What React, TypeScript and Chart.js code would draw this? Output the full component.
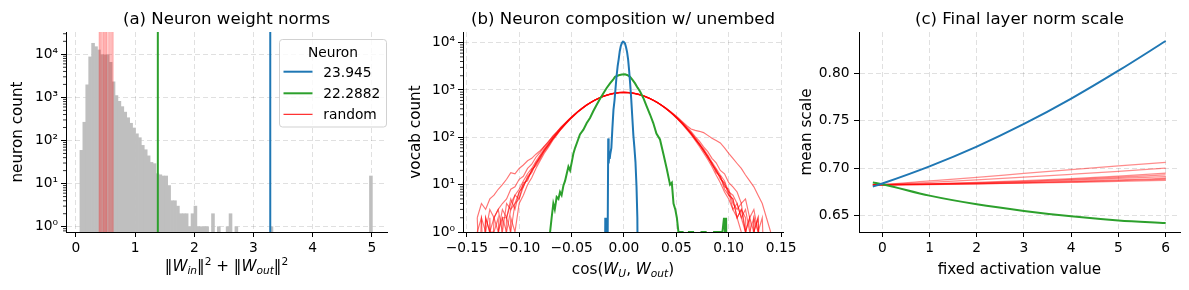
import React, { useEffect, useRef } from "react";
import { Chart, registerables } from "chart.js";

Chart.register(...registerables);

const FONT = "'DejaVu Sans', 'Liberation Sans', sans-serif";
const FIG_W = 1189;
const FIG_H = 290;
const TICK_SIZE = 13.8;
const LABEL_SIZE = 15.2;
const TITLE_SIZE = 16.6;
const TITLE_BASE = 24;
const GRID_COLOR = "rgba(0,0,0,0.12)";
const BLUE = "#1f77b4";
const GREEN = "#2ca02c";
const AXIS_TOP = 32;
const AXIS_BOTTOM = 232;
// zero counts are clipped far below the log axis (like matplotlib's nonpositive='clip')
const LOG_FLOOR = 0.01;

// ---------------- (a) Neuron weight norms ----------------
const histStart = 0.068;
const histBinWidth = 0.0494;
const histCounts = [
  59, 265, 1950, 8700, 18000, 15000, 12600, 9700, 9700, 9700,
  6500, 2300, 1100, 810, 610, 455, 337, 251, 195, 143,
  116, 77, 61, 44, 31, 29, 17, 16, 15, 15,
  9, 4, 4, 3, 2, 2, 2, 1, 2, 3,
  1, 1, 1, 1, 0, 2, 0, 1, 0, 0,
  1, 2, 0, 1, 0, 0, 0, 0, 0, 0,
  0, 0, 0, 0, 0, 1, 0, 0, 0, 0,
  0, 0, 0, 0, 0, 0, 0, 0, 0, 0,
  0, 0, 0, 0, 0, 0, 0, 0, 0, 0,
  0, 0, 0, 0, 0, 0, 0, 0, 0, 15,
];
const neuronNorms = [3.283, 1.384];
const randomNorms = [0.395, 0.405, 0.42, 0.435, 0.455, 0.47, 0.48, 0.5, 0.51, 0.52, 0.545, 0.565, 0.58, 0.6, 0.615, 0.63];
const legendTitle = "Neuron";
const legendLabels = ["23.945", "22.2882", "random"];
const aXTicks = [0, 1, 2, 3, 4, 5];
const logTicks = [1, 10, 100, 1000, 10000];
const aXRange = [-0.167, 5.255];
const aYRange = [0.753, 32900];

// ---------------- (b) Neuron composition w/ unembed ----------------
const bBlueX = [-0.0185, -0.0178, -0.017, -0.0162, -0.0155, -0.015, -0.0146, -0.0141, -0.0136, -0.013, -0.012, -0.011, -0.01, -0.009, -0.008, -0.007, -0.006, -0.005, -0.004, -0.003, -0.002, -0.001, 0, 0.001, 0.002, 0.003, 0.004, 0.005, 0.006, 0.007, 0.008, 0.009, 0.01, 0.011, 0.012, 0.0128, 0.0135];
const bBlueY = [0, 2, 1, 2, 1, 95, 28, 40, 35, 45, 60, 160, 380, 600, 1100, 2000, 3200, 4500, 6600, 8500, 9800, 10500, 10300, 9600, 8000, 6300, 4400, 2500, 1300, 620, 260, 110, 60, 30, 9, 2, 0];
const bGreenX = [-0.072, -0.0705, -0.069, -0.0674, -0.066, -0.0642, -0.0625, -0.061, -0.0595, -0.0578, -0.0562, -0.0546, -0.053, -0.0514, -0.0498, -0.0483, -0.0466, -0.045, -0.042, -0.0387, -0.0355, -0.0324, -0.0292, -0.026, -0.0228, -0.0196, -0.0165, -0.0133, -0.01, -0.0085, -0.005, -0.002, 0.001, 0.0035, 0.0058, 0.008, 0.0106, 0.013, 0.0154, 0.0185, 0.0217, 0.025, 0.028, 0.031, 0.0344, 0.0376, 0.0408, 0.044, 0.0457, 0.0473, 0.049, 0.0505, 0.052, 0.056, 0.059, 0.062, 0.066, 0.07, 0.074, 0.078, 0.082, 0.086, 0.09, 0.094, 0.0955, 0.0965, 0.0975, 0.0985];
const bGreenY = [0, 1, 2, 4, 3, 5.5, 5, 7, 6, 9.5, 12, 17, 24, 20, 30, 45, 60, 75, 115, 145, 200, 257, 360, 490, 650, 850, 1100, 1380, 1700, 1900, 2050, 2130, 2140, 2050, 1900, 1650, 1380, 1120, 930, 680, 450, 300, 200, 120, 90, 45, 22, 10, 11, 4, 3, 2, 1, 1, 0, 1, 1, 0, 1, 1, 0, 1, 1, 1, 2, 1, 2, 0];
const bRedX = [
  -0.14, -0.136, -0.132, -0.128, -0.124, -0.12, -0.116, -0.112, -0.108, -0.104,
  -0.1, -0.096, -0.092, -0.088, -0.084, -0.08, -0.076, -0.072, -0.068, -0.064,
  -0.06, -0.056, -0.052, -0.048, -0.044, -0.04, -0.036, -0.032, -0.028, -0.024,
  -0.02, -0.016, -0.012, -0.008, -0.004, 0, 0.004, 0.008, 0.012, 0.016,
  0.02, 0.024, 0.028, 0.032, 0.036, 0.04, 0.044, 0.048, 0.052, 0.056,
  0.06, 0.064, 0.068, 0.072, 0.076, 0.08, 0.084, 0.088, 0.092, 0.096,
  0.1, 0.104, 0.108, 0.112, 0.116, 0.12, 0.124, 0.128, 0.132, 0.136, 0.14,
];
const bRed1 = [0, 1, 0, 2, 0, 1, 2, 1, 3, 4, 7, 9, 15, 19, 29, 38, 55, 70, 95, 119, 156, 190, 240, 286, 350, 405, 476, 538, 612, 670, 736, 783, 835, 860, 888, 893, 882, 866, 828, 790, 730, 676, 604, 545, 470, 411, 343, 292, 235, 195, 151, 123, 90, 73, 51, 40, 27, 21, 13, 11, 6, 5, 2, 3, 1, 2, 0, 1, 0, 0, 0];
const bRed2 = [2, 0, 1, 0, 2, 3, 1, 4, 3, 6, 8, 12, 17, 22, 31, 42, 58, 76, 99, 126, 160, 198, 244, 295, 352, 412, 480, 545, 607, 668, 728, 778, 824, 857, 880, 886, 879, 858, 826, 781, 727, 668, 606, 542, 476, 414, 352, 296, 245, 199, 159, 127, 97, 75, 57, 42, 30, 22, 16, 12, 7, 6, 4, 2, 3, 1, 2, 0, 1, 0, 0];
const bRed3 = [0, 0, 0, 1, 0, 0, 1, 0, 2, 1, 4, 6, 10, 14, 22, 32, 46, 62, 86, 112, 148, 186, 232, 282, 342, 400, 470, 536, 606, 672, 738, 790, 840, 872, 896, 902, 893, 870, 838, 792, 737, 676, 610, 540, 470, 402, 340, 282, 230, 186, 146, 114, 86, 64, 47, 34, 24, 16, 11, 7, 5, 3, 2, 1, 0, 1, 0, 0, 0, 0, 0];
const bRed4 = [0, 0, 2, 1, 1, 2, 0, 2, 5, 3, 7, 10, 13, 20, 27, 40, 52, 72, 92, 122, 153, 194, 238, 290, 345, 410, 472, 540, 610, 675, 730, 785, 830, 866, 884, 890, 887, 862, 834, 785, 735, 672, 610, 538, 474, 406, 348, 288, 240, 192, 156, 118, 95, 69, 55, 37, 29, 19, 15, 9, 8, 4, 3, 4, 1, 2, 1, 2, 0, 1, 0];
const bRed5 = [1, 2, 0, 0, 1, 0, 2, 2, 1, 4, 5, 9, 14, 18, 28, 37, 53, 69, 94, 120, 151, 192, 236, 288, 347, 406, 475, 540, 606, 671, 731, 786, 829, 862, 886, 893, 884, 864, 829, 789, 731, 674, 606, 543, 472, 409, 344, 291, 236, 194, 152, 122, 92, 71, 52, 39, 26, 20, 14, 10, 7, 3, 4, 2, 1, 0, 2, 1, 0, 0, 1];
const bRed6 = [1, 0, 2, 1, 2, 3, 4, 5, 8, 9, 13, 15, 22, 27, 38, 48, 65, 80, 106, 131, 166, 202, 246, 292, 350, 410, 478, 542, 610, 670, 732, 782, 828, 860, 879, 884, 880, 862, 830, 786, 734, 672, 608, 544, 478, 412, 352, 294, 244, 204, 164, 134, 104, 83, 63, 50, 36, 29, 20, 17, 11, 9, 7, 4, 5, 2, 3, 1, 2, 0, 1];
const bRed7 = [2, 4, 3, 5, 6, 8, 10, 13, 18, 17, 22, 26, 32, 36, 44, 52, 64, 82, 104, 130, 162, 200, 246, 296, 352, 410, 474, 538, 602, 662, 720, 770, 816, 848, 866, 872, 868, 850, 818, 776, 724, 666, 604, 542, 478, 416, 358, 303, 256, 212, 176, 150, 140, 134, 126, 110, 96, 86, 76, 60, 46, 36, 28, 22, 16, 12, 9, 6, 4, 2, 1];
const bRed8 = [0, 2, 1, 3, 2, 1, 3, 2, 4, 6, 5, 11, 12, 21, 25, 35, 50, 66, 90, 116, 150, 189, 234, 284, 344, 402, 470, 535, 604, 668, 732, 782, 830, 864, 884, 888, 884, 866, 832, 786, 733, 670, 608, 541, 473, 405, 346, 287, 238, 191, 153, 119, 92, 70, 53, 38, 28, 18, 15, 8, 6, 5, 2, 3, 2, 0, 1, 2, 0, 1, 0];
const bRedLines = [bRed1, bRed2, bRed3, bRed4, bRed5, bRed6, bRed7, bRed8];
const bXTicks = [-0.15, -0.1, -0.05, 0, 0.05, 0.1, 0.15];
const bXRange = [-0.1536, 0.1518];
const bYRange = [1, 16800];

// ---------------- (c) Final layer norm scale ----------------
const cX = [-0.2, 0, 1, 2, 3, 4, 5, 6];
const cBlue = [0.6806, 0.6839, 0.702, 0.7228, 0.7466, 0.7733, 0.8027, 0.834];
const cGreen = [0.685, 0.6832, 0.6711, 0.662, 0.655, 0.6493, 0.645, 0.6423];
const cRed1 = [0.6825, 0.6829, 0.6866, 0.6904, 0.6945, 0.6985, 0.7024, 0.7062];
const cRed2 = [0.6825, 0.6827, 0.685, 0.6877, 0.6906, 0.6936, 0.6967, 0.7];
const cRed3 = [0.6825, 0.6826, 0.6836, 0.6851, 0.6869, 0.689, 0.6917, 0.6947];
const cRed4 = [0.6825, 0.6826, 0.6834, 0.6846, 0.6862, 0.6882, 0.6905, 0.693];
const cRed5 = [0.6825, 0.6826, 0.6832, 0.6842, 0.6856, 0.6873, 0.6892, 0.6912];
const cRed6 = [0.6825, 0.6825, 0.683, 0.6838, 0.6849, 0.6862, 0.6877, 0.6894];
const cRed7 = [0.6825, 0.6825, 0.6829, 0.6836, 0.6845, 0.6856, 0.6869, 0.6884];
const cRed8 = [0.6825, 0.6825, 0.6828, 0.6834, 0.6842, 0.6851, 0.6861, 0.6873];
const cRedLines = [cRed1, cRed2, cRed3, cRed4, cRed5, cRed6, cRed7, cRed8];
const cXTicks = [0, 1, 2, 3, 4, 5, 6];
const cYTicks = [0.65, 0.7, 0.75, 0.8];
const cXRange = [-0.493, 6.303];
const cYRange = [0.6328, 0.8435];

// ---------------- helpers ----------------
const SUP: Record<string, string> = { "0": "\u2070", "1": "\u00b9", "2": "\u00b2", "3": "\u00b3", "4": "\u2074", "5": "\u2075" };
const fmtLog = (v: number) => "10" + String(Math.round(Math.log10(v))).split("").map((d) => SUP[d] || d).join("");
const fmtInt = (v: number) => String(Math.round(v));
const fmt2 = (v: number) => (Math.abs(v) < 1e-9 ? "0.00" : v.toFixed(2).replace("-", "\u2212"));

type Seg = { t: string; it?: boolean; s?: number; dy?: number };
const segFont = (sg: Seg, size: number) => `${sg.it ? "italic " : ""}${(size * (sg.s ?? 1)).toFixed(2)}px ${FONT}`;

function drawSegs(ctx: CanvasRenderingContext2D, segs: Seg[], cx: number, by: number, size: number) {
  const widths = segs.map((sg) => {
    ctx.font = segFont(sg, size);
    return ctx.measureText(sg.t).width;
  });
  const total = widths.reduce((a, b) => a + b, 0);
  let x = cx - total / 2;
  ctx.textAlign = "left";
  segs.forEach((sg, i) => {
    ctx.font = segFont(sg, size);
    ctx.fillText(sg.t, x, by + (sg.dy ?? 0) * size);
    x += widths[i];
  });
}

const tickFont = { family: FONT, size: TICK_SIZE };

function scaleX(range: number[], ticks: number[], fmt: (v: number) => string) {
  return {
    type: "linear",
    position: "bottom",
    min: range[0],
    max: range[1],
    offset: false,
    afterBuildTicks: (s: any) => {
      s.ticks = ticks.map((v) => ({ value: v }));
    },
    afterFit: (s: any) => {
      s.height = FIG_H - AXIS_BOTTOM;
      s.paddingLeft = 0;
      s.paddingRight = 0;
    },
    ticks: { autoSkip: false, maxRotation: 0, minRotation: 0, padding: 3.5, color: "#000", font: tickFont, callback: (v: any) => fmt(Number(v)) },
    grid: { color: GRID_COLOR, lineWidth: 1, offset: false, drawTicks: true, tickLength: 5, tickColor: "#000", tickWidth: 1 },
    border: { display: true, color: "#000", width: 1, dash: [5, 3], z: 1 },
  };
}

function scaleY(type: string, range: number[], ticks: number[], fmt: (v: number) => string, pad: number) {
  return {
    type,
    position: "left",
    min: range[0],
    max: range[1],
    afterBuildTicks: (s: any) => {
      s.ticks = ticks.map((v) => ({ value: v }));
    },
    afterFit: (s: any) => {
      s.width = 60;
      s.paddingTop = 0;
      s.paddingBottom = 0;
    },
    ticks: { autoSkip: false, padding: pad, color: "#000", font: tickFont, callback: (v: any) => fmt(Number(v)) },
    grid: { color: GRID_COLOR, lineWidth: 1, drawTicks: true, tickLength: 5, tickColor: "#000", tickWidth: 1 },
    border: { display: true, color: "#000", width: 1, dash: [5, 3], z: 1 },
  };
}

interface Deco {
  title: string;
  xLabel: Seg[];
  xLabelY: number;
  yLabel: string;
  yLabelX: number;
  minorLog?: boolean;
  legend?: boolean;
}

function drawLegend(ctx: CanvasRenderingContext2D) {
  const x0 = 279.5, y0 = 39.5, x1 = 386.5, y1 = 127, r = 3;
  ctx.beginPath();
  ctx.moveTo(x0 + r, y0);
  ctx.arcTo(x1, y0, x1, y1, r);
  ctx.arcTo(x1, y1, x0, y1, r);
  ctx.arcTo(x0, y1, x0, y0, r);
  ctx.arcTo(x0, y0, x1, y0, r);
  ctx.closePath();
  ctx.fillStyle = "rgba(255,255,255,0.8)";
  ctx.fill();
  ctx.strokeStyle = "rgba(204,204,204,0.9)";
  ctx.lineWidth = 1;
  ctx.stroke();
  ctx.fillStyle = "#000";
  ctx.font = `${TICK_SIZE}px ${FONT}`;
  ctx.textAlign = "center";
  ctx.textBaseline = "alphabetic";
  ctx.fillText(legendTitle, 333, 56.5);
  const rows = [
    { c: BLUE, w: 2, y: 71.7 },
    { c: GREEN, w: 2, y: 93.3 },
    { c: "#ff0000", w: 1, y: 114.3 },
  ];
  rows.forEach((row, i) => {
    ctx.beginPath();
    ctx.strokeStyle = row.c;
    ctx.lineWidth = row.w;
    ctx.moveTo(283.5, row.y);
    ctx.lineTo(312.5, row.y);
    ctx.stroke();
    ctx.fillStyle = "#000";
    ctx.textAlign = "left";
    ctx.fillText(legendLabels[i], 323.3, row.y + 5);
  });
}

function decoPlugin(d: Deco) {
  return {
    id: "deco",
    afterDraw(chart: any) {
      const { ctx, chartArea } = chart;
      const cx = (chartArea.left + chartArea.right) / 2;
      const cy = (chartArea.top + chartArea.bottom) / 2;
      ctx.save();
      ctx.fillStyle = "#000";
      ctx.textBaseline = "alphabetic";
      ctx.textAlign = "center";
      ctx.font = `${TITLE_SIZE}px ${FONT}`;
      ctx.fillText(d.title, cx, TITLE_BASE);
      drawSegs(ctx, d.xLabel, cx, d.xLabelY, LABEL_SIZE);
      ctx.save();
      ctx.translate(d.yLabelX, cy);
      ctx.rotate(-Math.PI / 2);
      ctx.textAlign = "center";
      ctx.font = `${LABEL_SIZE}px ${FONT}`;
      ctx.fillText(d.yLabel, 0, 0);
      ctx.restore();
      if (d.minorLog) {
        const ys = chart.scales.y;
        ctx.strokeStyle = "#000";
        ctx.lineWidth = 0.8;
        ctx.beginPath();
        for (let e = -1; e <= 5; e++) {
          for (let m = 2; m <= 9; m++) {
            const v = m * Math.pow(10, e);
            if (v < ys.min || v > ys.max) continue;
            const py = ys.getPixelForValue(v);
            ctx.moveTo(chartArea.left - 3, py);
            ctx.lineTo(chartArea.left, py);
          }
        }
        ctx.stroke();
      }
      if (d.legend) drawLegend(ctx);
      ctx.restore();
    },
  };
}

function baseOptions(left: number, right: number, scales: any) {
  return {
    responsive: false,
    maintainAspectRatio: false,
    devicePixelRatio: 1,
    animation: false,
    events: [],
    layout: { padding: { left: left - 60, right: FIG_W - right, top: AXIS_TOP, bottom: 0 } },
    plugins: { legend: { display: false }, title: { display: false }, tooltip: { enabled: false } },
    scales,
  };
}

function configA(): any {
  const yMin = aYRange[0];
  const yMax = aYRange[1];
  const vline = (x: number, color: string, width: number) => ({
    type: "line",
    data: [{ x, y: yMin }, { x, y: yMax }],
    borderColor: color,
    borderWidth: width,
    pointRadius: 0,
    fill: false,
    clip: 0,
  });
  return {
    type: "bar",
    data: {
      datasets: [
        vline(neuronNorms[0], BLUE, 2),
        vline(neuronNorms[1], GREEN, 2),
        ...randomNorms.map((v) => vline(v, "rgba(255,0,0,0.2)", 1.5)),
        {
          type: "bar",
          data: histCounts.map((c, i) => ({ x: histStart + histBinWidth * (i + 0.5), y: c > 0 ? c : null })),
          backgroundColor: "rgb(191,191,191)",
          borderWidth: 0,
          barPercentage: 1,
          categoryPercentage: 1,
        },
      ],
    },
    options: baseOptions(66, 387, {
      x: scaleX(aXRange, aXTicks, fmtInt),
      y: scaleY("logarithmic", aYRange, logTicks, fmtLog, 3),
    }),
    plugins: [
      decoPlugin({
        title: "(a) Neuron weight norms",
        xLabel: [
          { t: "\u2016" },
          { t: "W", it: true },
          { t: "in", it: true, s: 0.7, dy: 0.2 },
          { t: "\u2016" },
          { t: "2", s: 0.7, dy: -0.42 },
          { t: " + " },
          { t: "\u2016" },
          { t: "W", it: true },
          { t: "out", it: true, s: 0.7, dy: 0.2 },
          { t: "\u2016" },
          { t: "2", s: 0.7, dy: -0.42 },
        ],
        xLabelY: 271,
        yLabel: "neuron count",
        yLabelX: 21.7,
        minorLog: true,
        legend: true,
      }),
    ],
  };
}

function configB(): any {
  const line = (xs: number[], ys: number[], color: string, width: number) => ({
    data: xs.map((x, i) => ({ x, y: ys[i] > 0 ? ys[i] : LOG_FLOOR })),
    borderColor: color,
    borderWidth: width,
    pointRadius: 0,
    fill: false,
    tension: 0,
    clip: 0,
  });
  return {
    type: "line",
    data: {
      datasets: [
        line(bBlueX, bBlueY, BLUE, 2),
        line(bGreenX, bGreenY, GREEN, 2),
        ...bRedLines.map((ys) => line(bRedX, ys, "rgba(255,0,0,0.55)", 1.15)),
      ],
    },
    options: baseOptions(463, 783, {
      x: scaleX(bXRange, bXTicks, fmt2),
      y: scaleY("logarithmic", bYRange, logTicks, fmtLog, 3),
    }),
    plugins: [
      decoPlugin({
        title: "(b) Neuron composition w/ unembed",
        xLabel: [
          { t: "cos(" },
          { t: "W", it: true },
          { t: "U", it: true, s: 0.7, dy: 0.2 },
          { t: ", " },
          { t: "W", it: true },
          { t: "out", it: true, s: 0.7, dy: 0.2 },
          { t: ")" },
        ],
        xLabelY: 273.5,
        yLabel: "vocab count",
        yLabelX: 420,
        minorLog: true,
      }),
    ],
  };
}

function configC(): any {
  const line = (ys: number[], color: string, width: number) => ({
    data: cX.map((x, i) => ({ x, y: ys[i] })),
    borderColor: color,
    borderWidth: width,
    pointRadius: 0,
    fill: false,
    cubicInterpolationMode: "monotone",
    clip: 0,
  });
  return {
    type: "line",
    data: {
      datasets: [
        line(cBlue, BLUE, 2),
        line(cGreen, GREEN, 2),
        ...cRedLines.map((ys) => line(ys, "rgba(255,0,0,0.45)", 1.3)),
      ],
    },
    options: baseOptions(859, 1180, {
      x: scaleX(cXRange, cXTicks, fmtInt),
      y: scaleY("linear", cYRange, cYTicks, fmt2, 4.5),
    }),
    plugins: [
      decoPlugin({
        title: "(c) Final layer norm scale",
        xLabel: [{ t: "fixed activation value" }],
        xLabelY: 273.8,
        yLabel: "mean scale",
        yLabelX: 810.7,
      }),
    ],
  };
}

export default function App() {
  const refA = useRef<HTMLCanvasElement>(null);
  const refB = useRef<HTMLCanvasElement>(null);
  const refC = useRef<HTMLCanvasElement>(null);

  useEffect(() => {
    const charts = [
      new Chart(refA.current as HTMLCanvasElement, configA()),
      new Chart(refB.current as HTMLCanvasElement, configB()),
      new Chart(refC.current as HTMLCanvasElement, configC()),
    ];
    return () => charts.forEach((c) => c.destroy());
  }, []);

  const cs: React.CSSProperties = { position: "absolute", left: 0, top: 0, width: FIG_W, height: FIG_H };
  return (
    <div style={{ position: "absolute", left: 0, top: 0, width: FIG_W, height: FIG_H, background: "#fff", overflow: "hidden" }}>
      <canvas ref={refA} width={FIG_W} height={FIG_H} style={cs} />
      <canvas ref={refB} width={FIG_W} height={FIG_H} style={cs} />
      <canvas ref={refC} width={FIG_W} height={FIG_H} style={cs} />
    </div>
  );
}
